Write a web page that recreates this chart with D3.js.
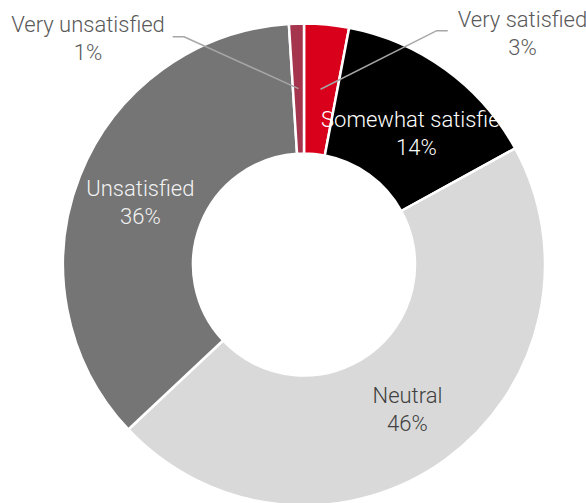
<!DOCTYPE html>
<html>
<head>
<meta charset="utf-8">
<script src="https://cdn.jsdelivr.net/npm/d3@7.9.0/dist/d3.min.js"></script>
<style>
  html, body { margin: 0; padding: 0; background: #fff; }
  svg { display: block; }
  text { font-family: Roboto, "Liberation Sans", sans-serif; font-weight: 300; font-size: 22px; }
</style>
</head>
<body>
<svg id="chart" width="586" height="503"></svg>
<script>
// satisfaction survey, clockwise from 12 o'clock
const categories = ['Very satisfied', 'Somewhat satisfied', 'Neutral', 'Unsatisfied', 'Very unsatisfied'];
const values = [3, 14, 46, 36, 1];
const percentLabels = ['3%', '14%', '46%', '36%', '1%'];

const colors = ['#d9001b', '#000000', '#d9d9d9', '#757575', '#a5354d'];
const labelColors = ['#595959', '#ffffff', '#404040', '#f2f2f2', '#595959'];

const width = 586, height = 503;
const cx = 304, cy = 264.5;
const outerR = 241, innerR = 111;
const lineGap = 28;

// outside labels: where the label block sits and where the leader elbow is
const outside = {
  'Very satisfied': { x: 522.5, y: 27, elbow: [436.7, 30.7], end: [447.7, 30.7] },
  'Very unsatisfied': { x: 88, y: 32, elbow: [184, 36.7], end: [172.7, 36.7] },
};
// small nudges Excel applied to inside labels
const nudge = { 'Somewhat satisfied': [9, 9] };

const data = categories.map((c, i) => ({ label: c, value: values[i], pct: percentLabels[i], idx: i }));

const svg = d3.select('#chart');
const g = svg.append('g').attr('transform', `translate(${cx},${cy})`);

const pie = d3.pie().value((d) => d.value).sort(null);
const arc = d3.arc().innerRadius(innerR).outerRadius(outerR);
const arcs = pie(data);

g.selectAll('path')
  .data(arcs)
  .join('path')
  .attr('d', arc)
  .attr('fill', (d) => colors[d.data.idx])
  .attr('stroke', '#fff')
  .attr('stroke-width', 2.5)
  .attr('stroke-linejoin', 'miter');

// leader lines for the tiny slices
arcs.filter((d) => outside[d.data.label]).forEach((d) => {
  const o = outside[d.data.label];
  const [x0, y0] = arc.centroid(d);
  const pts = [[x0 + cx, y0 + cy], o.elbow, o.end];
  svg.append('path')
    .attr('d', d3.line()(pts))
    .attr('fill', 'none')
    .attr('stroke', '#a6a6a6')
    .attr('stroke-width', 1.5);
});

// labels
arcs.forEach((d) => {
  const name = d.data.label;
  let x, y;
  if (outside[name]) {
    x = outside[name].x;
    y = outside[name].y;
  } else {
    const [ax, ay] = arc.centroid(d);
    const n = nudge[name] || [0, 0];
    x = cx + ax + n[0];
    y = cy + ay - 4 + n[1];
  }
  const t = svg.append('text')
    .attr('x', x)
    .attr('y', y)
    .attr('text-anchor', 'middle')
    .attr('fill', labelColors[d.data.idx]);
  t.append('tspan').attr('x', x).text(name);
  t.append('tspan').attr('x', x).attr('dy', lineGap).text(d.data.pct);
});
</script>
</body>
</html>
